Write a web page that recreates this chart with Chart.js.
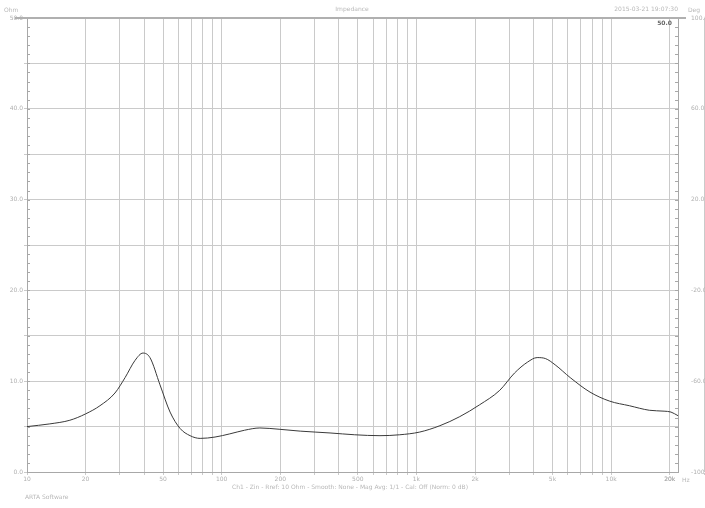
<!DOCTYPE html>
<html>
<head>
<meta charset="utf-8">
<script src="https://cdn.jsdelivr.net/npm/chart.js@4.4.0/dist/chart.umd.min.js"></script>
<style>
  body { margin: 0; background: #fff; }
  #wrap { width: 705px; height: 508px; }
</style>
</head>
<body>
<div id="wrap"><canvas id="impChart" width="705" height="508"></canvas></div>
<script>
// values
const freqs = [10, 13.1, 16.6, 20, 23.7, 28.3, 31.9, 35.9, 39.4, 42.8, 48.2, 54.3, 61.1, 68.8, 77.5, 92.4,
  110, 131, 157, 199, 253, 360, 482, 650, 821, 1040, 1320, 1670, 2110, 2680, 3190, 3720, 4170,
  4590, 5160, 6160, 7790, 9840, 12400, 15700, 18700, 20300, 22050];
const impedance = [5.0, 5.3, 5.7, 6.4, 7.3, 8.7, 10.4, 12.3, 13.1, 12.6, 9.6, 6.6, 4.8, 4.0, 3.7, 3.85,
  4.2, 4.6, 4.85, 4.7, 4.5, 4.3, 4.1, 4.0, 4.1, 4.4, 5.1, 6.1, 7.4, 9.0, 10.9, 12.1, 12.6,
  12.5, 11.8, 10.4, 8.8, 7.8, 7.3, 6.8, 6.7, 6.6, 6.2];
const freqLabels = [10, 20, 50, 100, 200, 500, 1000, 2000, 5000, 10000, 20000];
const ohmLabels = [0, 10, 20, 30, 40, 50];
const degLabels = [-100, -60, -20, 20, 60, 100];

const gridTicks = [];
for (let d = 10; d <= 10000; d *= 10) {
  for (let m = 1; m <= 9; m++) gridTicks.push(d * m);
}
gridTicks.push(20000);

const gray = '#a8a8a8';
const tickFont = { family: 'DejaVu Sans', size: 6 };

const overlay = {
  id: 'overlay',
  afterDraw(chart) {
    const ctx = chart.ctx;
    const a = chart.chartArea;
    const y = chart.scales.y;
    ctx.save();
    // minor ticks on the side axes
    ctx.strokeStyle = gray;
    ctx.lineWidth = 1;
    for (let v = 0; v <= 50; v++) {
      const py = Math.round(y.getPixelForValue(v)) + 0.5;
      ctx.beginPath();
      ctx.moveTo(a.left, py); ctx.lineTo(a.left + 3, py);
      ctx.moveTo(a.right - 3, py); ctx.lineTo(a.right, py);
      ctx.stroke();
    }
    // heavier top border
    ctx.strokeStyle = '#b0b0b0';
    ctx.lineWidth = 2;
    ctx.beginPath();
    ctx.moveTo(a.left - 12, a.top); ctx.lineTo(a.right + 8, a.top);
    ctx.stroke();

    ctx.fillStyle = '#b8b8b8';
    ctx.font = '6px "DejaVu Sans"';
    ctx.textAlign = 'center';
    ctx.fillText('Impedance', 352, 11);
    ctx.textAlign = 'right';
    ctx.fillText('2015-03-21 19:07:30', 678, 11);
    ctx.textAlign = 'left';
    ctx.fillText('Ohm', 4, 12);
    ctx.fillText('ARTA Software', 25, 499);
    ctx.textAlign = 'center';
    ctx.fillText('Ch1 - Zin - Rref: 10 Ohm - Smooth: None - Mag Avg: 1/1 - Cal: Off (Norm: 0 dB)', 350, 489);
    ctx.textAlign = 'left';
    ctx.fillText('Hz', a.right + 4, a.bottom + 10);
    ctx.fillText('Deg', a.right + 10, 12);
    ctx.fillStyle = '#666';
    ctx.font = 'bold 6px "DejaVu Sans"';
    ctx.textAlign = 'right';
    ctx.fillText('50.0', a.right - 6, a.top + 7);
    ctx.restore();
  }
};

new Chart(document.getElementById('impChart'), {
  type: 'line',
  data: {
    datasets: [{
      data: freqs.map((f, i) => ({ x: f, y: impedance[i] })),
      borderColor: '#3a3a3a',
      borderWidth: 1,
      pointRadius: 0,
      tension: 0.4,
      cubicInterpolationMode: 'monotone'
    }]
  },
  options: {
    responsive: false,
    animation: false,
    layout: { padding: { top: 18, left: 0, right: 0, bottom: 0 } },
    plugins: { legend: { display: false }, tooltip: { enabled: false } },
    scales: {
      x: {
        type: 'logarithmic',
        min: 10,
        max: 22050,
        afterBuildTicks: s => { s.ticks = gridTicks.map(v => ({ value: v })); },
        afterFit: s => { s.height = 36; },
        grid: { color: '#cacaca', tickLength: 3, drawTicks: true },
        border: { color: gray },
        ticks: {
          autoSkip: false,
          maxRotation: 0,
          padding: 1,
          color: '#b0b0b0',
          font: tickFont,
          callback: v => {
            if (!freqLabels.includes(v)) return '';
            return v >= 1000 ? (v / 1000) + 'k' : String(v);
          }
        }
      },
      y: {
        min: 0,
        max: 50,
        afterBuildTicks: s => { s.ticks = []; for (let v = 0; v <= 50; v += 5) s.ticks.push({ value: v }); },
        afterFit: s => { s.width = 27; },
        grid: { color: '#cacaca', tickLength: 3 },
        border: { color: gray },
        ticks: {
          padding: 1,
          color: '#b0b0b0',
          font: tickFont,
          callback: v => ohmLabels.includes(v) ? v.toFixed(1) : ''
        }
      },
      y2: {
        position: 'right',
        min: -100,
        max: 100,
        afterBuildTicks: s => { s.ticks = []; for (let v = -100; v <= 100; v += 20) s.ticks.push({ value: v }); },
        afterFit: s => { s.width = 27; },
        grid: { display: false },
        border: { color: gray },
        ticks: {
          padding: 5,
          color: '#b0b0b0',
          font: tickFont,
          callback: v => degLabels.includes(v) ? v.toFixed(1) : ''
        }
      }
    }
  },
  plugins: [overlay]
});
</script>
</body>
</html>
